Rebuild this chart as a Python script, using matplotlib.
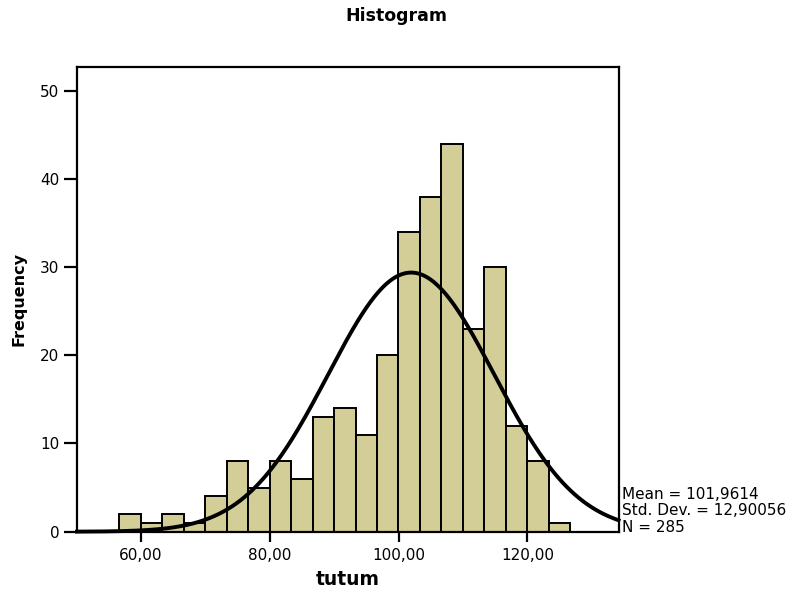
import numpy as np
import matplotlib
matplotlib.use("Agg")
import matplotlib.pyplot as plt

# histogram counts per bin
counts = [2, 1, 2, 1, 4, 8, 5, 8, 6, 13, 14, 11, 20, 34, 38, 44, 23, 30, 12, 8, 1]
bin_start = 56.65
bin_width = 10 / 3

# summary statistics shown beside the chart
mean = 101.9614
std_dev = 12.90056
n = 285

x_ticks = [60, 80, 100, 120]
x_tick_labels = ["60,00", "80,00", "100,00", "120,00"]
y_ticks = [0, 10, 20, 30, 40, 50]

bar_color = "#D3CE97"

fig = plt.figure(figsize=(7.92, 5.95), dpi=100)
ax = fig.add_axes([0.0972, 0.1064, 0.781 - 0.0972, 0.8869 - 0.1064])

edges = bin_start + bin_width * np.arange(len(counts) + 1)
ax.bar(edges[:-1], counts, width=bin_width, align="edge",
       color=bar_color, edgecolor="black", linewidth=1.4, zorder=2)

# fitted normal curve scaled to counts
xmin, xmax = 50.06, 134.17
xs = np.linspace(xmin, xmax, 400)
ys = n * bin_width / (std_dev * np.sqrt(2 * np.pi)) * np.exp(-0.5 * ((xs - mean) / std_dev) ** 2)
ax.plot(xs, ys, color="black", linewidth=2.8, zorder=3, clip_on=False)

ax.set_xlim(xmin, xmax)
ax.set_ylim(0, 52.65)
ax.set_xticks(x_ticks)
ax.set_xticklabels(x_tick_labels)
ax.set_yticks(y_ticks)

for spine in ax.spines.values():
    spine.set_linewidth(1.6)
ax.tick_params(axis="x", length=7, width=1.6, pad=5, labelsize=11)
ax.tick_params(axis="y", length=9.5, width=1.6, pad=3, labelsize=11)

fig.text(0.5, 1 - 21 / 595, "Histogram", ha="center", va="baseline",
         fontsize=12.5, fontweight="bold")
fig.text(347.75 / 792, 1 - 585 / 595, "tutum", ha="center", va="baseline",
         fontsize=13.5, fontweight="bold")
fig.text(19.5 / 792, 1 - 299.5 / 595, "Frequency", ha="center", va="center",
         rotation=90, fontsize=11.5, fontweight="bold")

# statistics box on the right
stats = ["Mean = 101,9614", "Std. Dev. = 12,90056", "N = 285"]
for i, line in enumerate(stats):
    fig.text(621.5 / 792, 1 - (499 + 16.3 * i) / 595, line,
             ha="left", va="baseline", fontsize=11)

fig.savefig("out.png", dpi=100)
